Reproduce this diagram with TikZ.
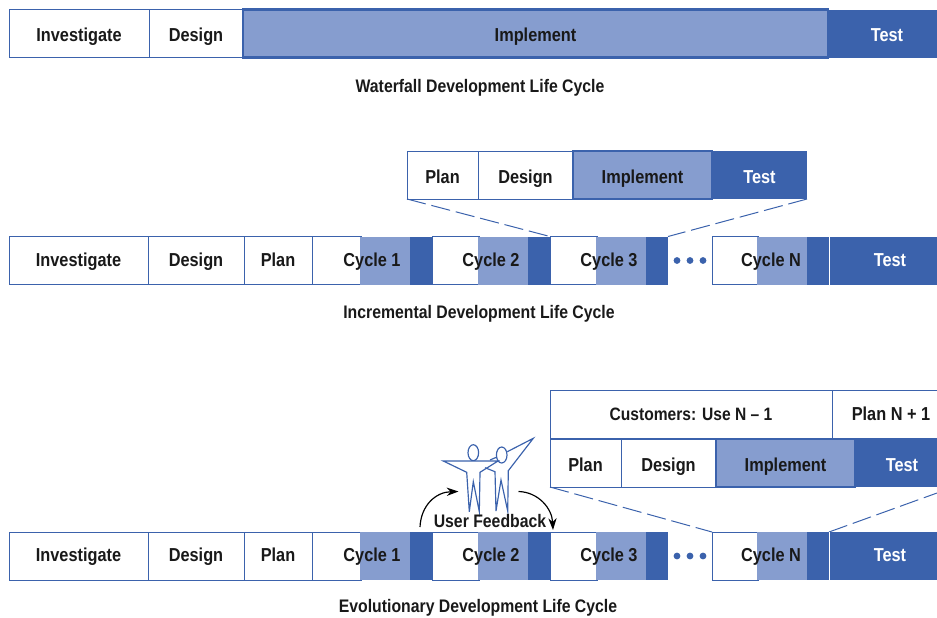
\documentclass[tikz,border=0pt]{standalone}
\usepackage{fontspec}
\setmainfont{Liberation Sans}[FakeStretch=0.87]
\usetikzlibrary{arrows.meta, positioning, calc}

\definecolor{bardark}{HTML}{3B62AC}
\definecolor{barlight}{HTML}{869DCF}

\tikzset{
    cell/.style={anchor=west, inner sep=0pt, outer sep=0pt, minimum height=48*0.03cm, font=\fontsize{16}{18}\selectfont\bfseries, text height=14.5pt, text depth=0pt},
    plainbox/.style={cell, draw=bardark, line width=0.85pt, fill=white, text=black!90},
    implbox/.style={cell, draw=bardark, line width=2.2pt, fill=barlight, text=black!90},
    lightbox/.style={cell, fill=barlight},
    testbox/.style={cell, fill=bardark, text=white},
    longbar/.style={text height=9.4pt},
    title/.style={font=\fontsize{15.5}{18}\selectfont\bfseries, text=black!90, inner sep=0pt, text height=10.2pt, text depth=0pt},
    cycle/.style={font=\fontsize{16}{18}\selectfont\bfseries, text=black!90, inner sep=0pt, text height=9.4pt, text depth=0pt},
    zoomline/.style={bardark, line width=0.85pt, dash pattern=on 16.5pt off 5pt},
    person/.style={bardark, line width=1pt, line join=miter},
    feedback/.style={black, line width=1pt, -{Stealth[length=10pt,width=7pt]}}
}

\begin{document}
\begin{tikzpicture}[x=0.03cm, y=-0.03cm]
\useasboundingbox (0,0) rectangle (937,617);

% waterfall
\foreach \x/\w/\nm/\sty/\txt in {9/140/winv/plainbox/Investigate, 149/94/wdes/plainbox/Design, 828/118/wtest/testbox/Test, 243/585/wimpl/implbox/Implement} {
    \node[\sty, minimum width=\w*0.03cm] (\nm) at (\x,33.5) {\txt};
}
\node[title] (wtitle) at (480,87) {Waterfall Development Life Cycle};

% incremental, one cycle
\foreach \x/\w/\nm/\sty/\txt in {407/71/iplan/plainbox/Plan, 478/95/ides/plainbox/Design, 712/95/itest/testbox/Test, 573/139/iimpl/implbox/Implement} {
    \node[\sty, minimum width=\w*0.03cm] (\nm) at (\x,175) {\txt};
}

% the same long bar twice
\foreach \y/\r in {260.5/a, 556/b} {
    \foreach \x/\w/\nm/\sty/\txt in {9/139/inv/plainbox/Investigate, 148/96/des/plainbox/Design, 244/68/pln/plainbox/Plan, 830/120/tst/testbox/Test} {
        \node[\sty, longbar, minimum width=\w*0.03cm] (\r\nm) at (\x,\y) {\txt};
    }
    \foreach \x/\a/\n in {312/49/1, 432/47/2, 550/47/3, 712/46/N} {
        \node[plainbox, minimum width=\a*0.03cm] (\r w\n) at (\x,\y) {};
        \node[lightbox, minimum width=50*0.03cm, right=-0.03cm of \r w\n] (\r m\n) {};
        \node[testbox, minimum width=22*0.03cm, right=0pt of \r m\n] (\r d\n) {};
    }
    \node[cycle] (\r c1) at (372,\y) {Cycle 1};
    \node[cycle] (\r c2) at (491,\y) {Cycle 2};
    \node[cycle] (\r c3) at (609,\y) {Cycle 3};
    \node[cycle] (\r cN) at (771,\y) {Cycle N};
    \foreach \x in {677,690,703} {
        \fill[bardark] (\x,\y) circle (3.4);
    }
}
\node[title] (ititle) at (479,313) {Incremental Development Life Cycle};
\draw[zoomline] (iplan.south west) -- (aw3.north west);
\draw[zoomline] (itest.south east) -- (ad3.north east);

% evolutionary
\node[plainbox, text height=10.6pt, font=\fontsize{15.3}{18}\selectfont\bfseries, minimum width=282*0.03cm] (euse) at (550,414.5) {Customers: Use N -- 1};
\node[plainbox, text height=10.6pt, minimum width=118*0.03cm] (eplantwo) at (832,414.5) {Plan N + 1};
\foreach \x/\w/\nm/\sty/\txt in {550/71/eplan/plainbox/Plan, 621/95/edes/plainbox/Design, 855/94/etest/testbox/Test, 716/139/eimpl/implbox/Implement} {
    \node[\sty, minimum width=\w*0.03cm] (\nm) at (\x,463) {\txt};
}
\node[title] (etitle) at (478,607) {Evolutionary Development Life Cycle};
\coordinate (eright) at (937,493);
\draw[zoomline] (eplan.south west) -- (bwN.north west);
\draw[zoomline] (bdN.north east) -- (eright);

% white line in front of the last test
\draw[white, line width=1.2pt] (829.5,237) -- (829.5,284);
\draw[white, line width=1.2pt] (829.5,532) -- (829.5,580);

% two users
\draw[person] (473.3,452.7) ellipse (5.3 and 8);
\draw[person] (501.7,455) ellipse (5.3 and 8);
\draw[person, fill=white] (443.3,461) -- (498,461) -- (480,472.3) -- (479.3,511.7) -- (473.3,481.7) -- (469.3,511.7) -- (466.7,472.3) -- cycle;
\draw[person] (507.3,451.7) -- (533.3,438.3) -- (508.3,470.7) -- (507.7,511) -- (501,480) -- (496,511) -- (495,471.7) -- (485,467.7);
\draw[person] (490,460) -- (497,457);

% feedback
\node[cycle, font=\fontsize{15.5}{18}\selectfont\bfseries, text height=10.6pt] (fb) at (490,521.5) {User Feedback};
\coordinate (fbl) at (420,527);
\coordinate (fblend) at (458.5,491.5);
\coordinate (fbr) at (518.5,491.5);
\coordinate (fbrend) at (553,530);
\draw[feedback] (fbl) .. controls (421,505) and (436,492) .. (fblend);
\draw[feedback] (fbr) .. controls (538,492) and (552,508) .. (fbrend);
\end{tikzpicture}
\end{document}
